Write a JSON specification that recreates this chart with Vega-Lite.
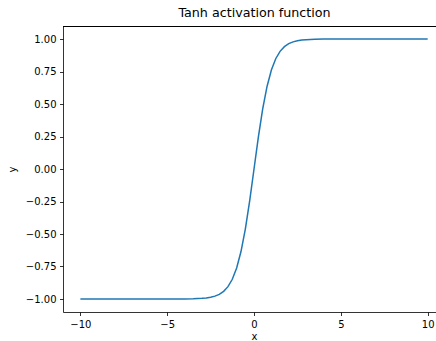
{
  "$schema": "https://vega.github.io/schema/vega-lite/v6.json",
  "autosize": {"type": "none"},
  "padding": {"left": 63, "top": 26, "right": 0, "bottom": 29},
  "width": 373,
  "height": 286,
  "background": "white",
  "config": {
    "view": {"stroke": null},
    "font": "DejaVu Sans",
    "axis": {
      "grid": false,
      "domainColor": "#000",
      "domainWidth": 0.8,
      "tickColor": "#000",
      "tickWidth": 0.8,
      "tickSize": 3.5,
      "labelFont": "DejaVu Sans",
      "labelFontSize": 10,
      "labelColor": "#000",
      "labelPadding": 3.5,
      "labelOverlap": false,
      "labelBound": false,
      "titleFont": "DejaVu Sans",
      "titleFontSize": 10,
      "titleFontWeight": "normal",
      "titleColor": "#000"
    }
  },
  "title": {
    "text": "Tanh activation function",
    "font": "DejaVu Sans",
    "fontSize": 12.7,
    "fontWeight": "normal",
    "color": "#000",
    "frame": "group",
    "dx": 5,
    "offset": 6
  },
  "data": {
    "values": [
      {"x": -10, "y": -1.0},
      {"x": -5, "y": -0.9999},
      {"x": -4, "y": -0.9993},
      {"x": -3.5, "y": -0.9982},
      {"x": -3, "y": -0.9951},
      {"x": -2.75, "y": -0.9918},
      {"x": -2.5, "y": -0.9866},
      {"x": -2.25, "y": -0.978},
      {"x": -2, "y": -0.964},
      {"x": -1.75, "y": -0.9414},
      {"x": -1.5, "y": -0.9051},
      {"x": -1.25, "y": -0.8483},
      {"x": -1, "y": -0.7616},
      {"x": -0.75, "y": -0.6351},
      {"x": -0.5, "y": -0.4621},
      {"x": -0.25, "y": -0.2449},
      {"x": 0, "y": 0},
      {"x": 0.25, "y": 0.2449},
      {"x": 0.5, "y": 0.4621},
      {"x": 0.75, "y": 0.6351},
      {"x": 1, "y": 0.7616},
      {"x": 1.25, "y": 0.8483},
      {"x": 1.5, "y": 0.9051},
      {"x": 1.75, "y": 0.9414},
      {"x": 2, "y": 0.964},
      {"x": 2.25, "y": 0.978},
      {"x": 2.5, "y": 0.9866},
      {"x": 2.75, "y": 0.9918},
      {"x": 3, "y": 0.9951},
      {"x": 3.5, "y": 0.9982},
      {"x": 4, "y": 0.9993},
      {"x": 5, "y": 0.9999},
      {"x": 10, "y": 1.0}
    ]
  },
  "layer": [
    {
      "mark": {"type": "line", "color": "#1f77b4", "strokeWidth": 1.5},
      "encoding": {
        "x": {
          "field": "x", "type": "quantitative",
          "scale": {"domain": [-11, 10.48], "nice": false, "zero": false},
          "axis": {"values": [-10, -5, 0, 5, 10], "tickCount": 20, "format": "d", "title": "x", "titleX": 191, "titlePadding": 2}
        },
        "y": {
          "field": "y", "type": "quantitative",
          "scale": {"domain": [-1.1, 1.1], "nice": false, "zero": false},
          "axis": {"values": [-1, -0.75, -0.5, -0.25, 0, 0.25, 0.5, 0.75, 1], "tickCount": 20, "format": ".2f", "title": "y", "titlePadding": 8}
        }
      }
    },
    {
      "mark": {"type": "rule", "color": "#000", "strokeWidth": 0.8, "yOffset": 0.5},
      "encoding": {"y": {"datum": 1.1, "type": "quantitative"}}
    }
  ]
}
